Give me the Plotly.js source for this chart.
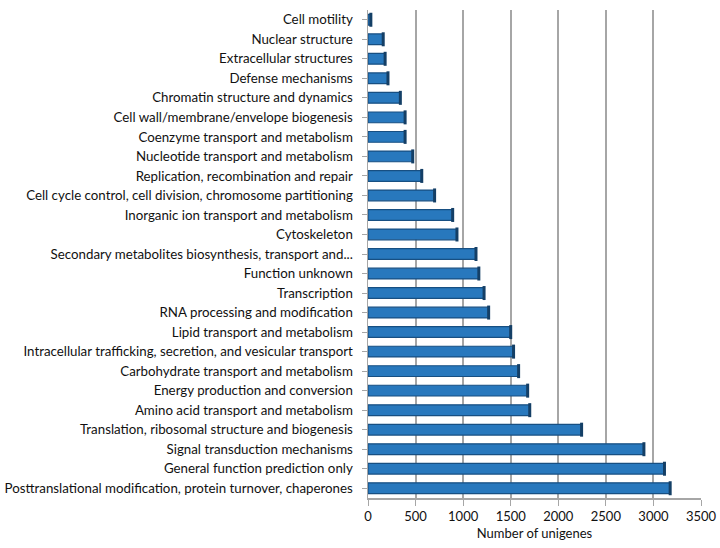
<!DOCTYPE html>
<html>
<head>
<meta charset="utf-8">
<script src="https://cdn.plot.ly/plotly-3.0.1.min.js"></script>
<style>html,body{margin:0;padding:0;background:#fff;}#chart{width:720px;height:548px;}</style>
</head>
<body>
<div id="chart"></div>
<script>
const categories = [
  "Cell motility",
  "Nuclear structure",
  "Extracellular structures",
  "Defense mechanisms",
  "Chromatin structure and dynamics",
  "Cell wall/membrane/envelope biogenesis",
  "Coenzyme transport and metabolism",
  "Nucleotide transport and metabolism",
  "Replication, recombination and repair",
  "Cell cycle control, cell division, chromosome partitioning",
  "Inorganic ion transport and metabolism",
  "Cytoskeleton",
  "Secondary metabolites biosynthesis, transport and...",
  "Function unknown",
  "Transcription",
  "RNA processing and modification",
  "Lipid transport and metabolism",
  "Intracellular trafficking, secretion, and vesicular transport",
  "Carbohydrate transport and metabolism",
  "Energy production and conversion",
  "Amino acid transport and metabolism",
  "Translation, ribosomal structure and biogenesis",
  "Signal transduction mechanisms",
  "General function prediction only",
  "Posttranslational modification, protein turnover, chaperones"
];
const unigenes = [30, 160, 180, 210, 340, 390, 390, 470, 565, 700, 890, 935, 1135, 1165, 1220, 1268, 1500, 1530, 1583, 1678, 1700, 2245, 2900, 3116, 3176];
const xTicks = [0, 500, 1000, 1500, 2000, 2500, 3000, 3500];

const bars = {
  type: 'bar',
  orientation: 'h',
  y: categories,
  x: unigenes,
  marker: { color: '#2878bd', line: { color: '#174f82', width: 1.2 } },
  hoverinfo: 'x+y'
};

const caps = {
  type: 'scatter',
  mode: 'markers',
  y: categories,
  x: unigenes,
  marker: { symbol: 'line-ns', size: 10, line: { color: '#143f66', width: 3 } },
  hoverinfo: 'skip'
};

const layout = {
  width: 720, height: 548,
  margin: { l: 368, r: 19, t: 10, b: 50 },
  paper_bgcolor: '#fff', plot_bgcolor: '#fff',
  showlegend: false,
  bargap: 0.45,
  font: { family: 'Lato, "Open Sans", sans-serif', size: 12, color: '#111' },
  xaxis: {
    range: [0, 3500],
    tickvals: xTicks,
    ticktext: xTicks.map(String),
    showgrid: true, gridcolor: '#a6a6a6', gridwidth: 2,
    zeroline: false,
    showline: true, linecolor: '#a6a6a6', linewidth: 1.5,
    ticks: 'outside', ticklen: 6, tickcolor: '#a6a6a6',
    tickfont: { size: 13, color: '#111' },
    title: { text: 'Number of unigenes', font: { size: 13, color: '#111' }, standoff: 6 }
  },
  yaxis: {
    type: 'category',
    autorange: false,
    range: [categories.length - 0.5, -0.5],
    showgrid: false,
    zeroline: false,
    showline: true, linecolor: '#a6a6a6', linewidth: 1.5,
    ticks: 'outside', ticklen: 5, tickcolor: '#a6a6a6',
    ticklabelstandoff: 6,
    tickfont: { size: 13.3, color: '#111' }
  }
};

Plotly.newPlot('chart', [bars, caps], layout, { displayModeBar: false, staticPlot: true });
</script>
</body>
</html>
